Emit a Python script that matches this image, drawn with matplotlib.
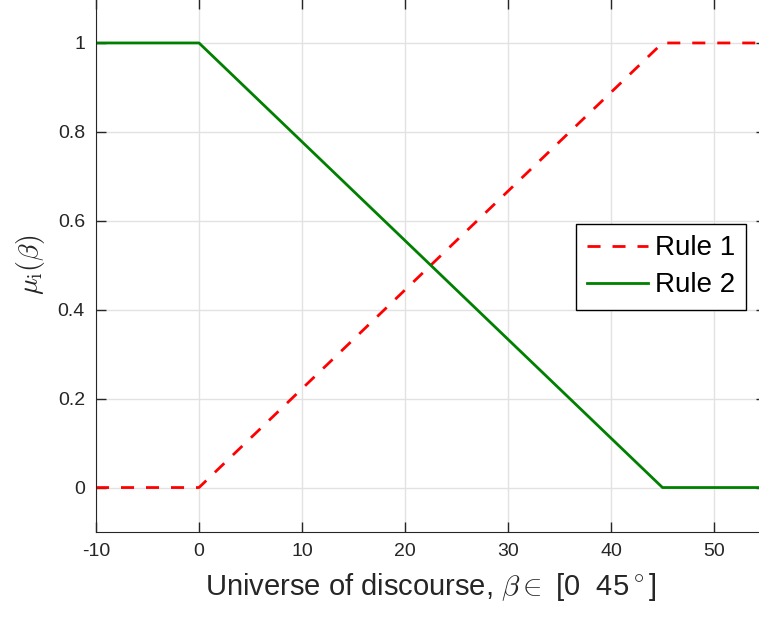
import matplotlib.pyplot as plt

# membership functions
beta = [-10, 0, 45, 55]
rule1 = [0, 0, 1, 1]
rule2 = [1, 1, 0, 0]

plt.rcParams['font.family'] = ['Liberation Sans', 'DejaVu Sans']
plt.rcParams['mathtext.fontset'] = 'cm'
plt.rcParams['axes.unicode_minus'] = False

# axes runs a bit past the right and top edge, like the cropped original
fig = plt.figure(figsize=(7.59, 6.19), dpi=100)
ax = fig.add_axes([96 / 759, 87 / 619, 669.5 / 759, 533.5 / 619])

ax.plot(beta, rule1, color='red', lw=2, dashes=(4.7, 4.3), label='Rule 1')
ax.plot(beta, rule2, color='green', lw=2, label='Rule 2')

ax.set_xlim(-10, 55)
ax.set_ylim(-0.1, 1.1)
ax.set_xticks([-10, 0, 10, 20, 30, 40, 50])
ax.set_yticks([0, 0.2, 0.4, 0.6, 0.8, 1])
ax.set_yticklabels(['0', '0.2', '0.4', '0.6', '0.8', '1'])

ax.grid(True, color='#e2e2e2', lw=1)
ax.set_axisbelow(True)
ax.tick_params(direction='in', length=7, width=1, labelsize=14,
               colors='#262626', top=True, right=True, pad=8)
for s in ax.spines.values():
    s.set_color('#262626')

ax.set_xlabel(r'Universe of discourse, $\beta\in$ [0  45$^\circ$]', fontsize=21,
              color='#262626', labelpad=8)
ax.set_ylabel(r'$\mu_\mathrm{i}(\beta)$', fontsize=20, color='#262626', labelpad=8)

leg = ax.legend(loc='upper right', bbox_to_anchor=(0.971, 0.577), fontsize=20,
                frameon=True, fancybox=False, framealpha=1, edgecolor='black',
                handlelength=2.2, handletextpad=0.25, borderpad=0.4,
                labelspacing=0.4, borderaxespad=0)
leg.get_frame().set_linewidth(1)

fig.savefig('out.png', dpi=100)
